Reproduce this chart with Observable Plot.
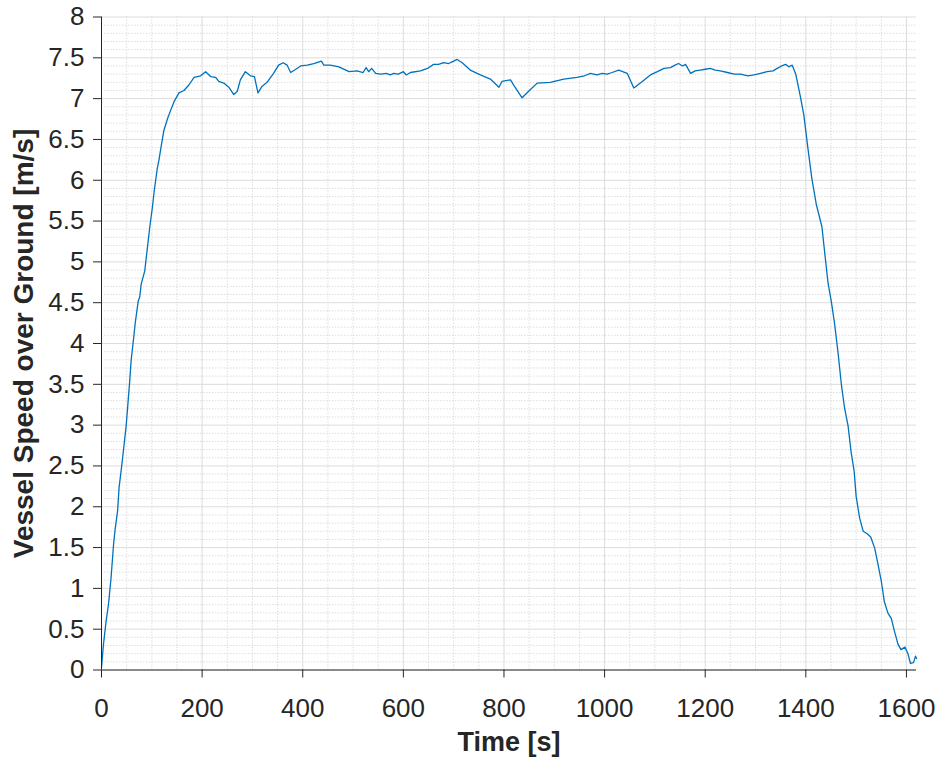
<!DOCTYPE html>
<html>
<head>
<meta charset="utf-8">
<script src="https://cdn.jsdelivr.net/npm/d3@7"></script>
<script src="https://cdn.jsdelivr.net/npm/@observablehq/plot@0.6"></script>
<style>
  html, body { margin: 0; padding: 0; background: #fff; }
  svg { display: block; overflow: visible; }
</style>
</head>
<body>
<div id="chart"></div>
<script>
const timeS = [0,4,9,14,19,24,27,32,35,39,44,49,53,56,59,64,67,73,76,79,86,91,96,101,105,111,114,119,124,131,137,144,154,164,174,184,197,207,217,227,233,243,253,263,270,276,286,296,304,311,319,329,342,352,361,369,376,384,396,409,422,437,442,455,472,492,508,520,526,531,537,545,555,566,574,581,590,600,606,614,634,648,660,670,680,690,697,707,717,733,753,773,790,796,813,820,836,849,866,892,919,945,960,972,985,995,1005,1015,1028,1045,1058,1075,1091,1105,1118,1131,1140,1147,1155,1161,1171,1180,1190,1200,1210,1220,1230,1244,1258,1270,1285,1297,1310,1323,1335,1343,1352,1360,1366,1373,1380,1389,1396,1404,1412,1421,1432,1436,1444,1451,1457,1464,1471,1477,1484,1490,1496,1500,1507,1514,1522,1529,1537,1543,1550,1556,1563,1570,1576,1583,1589,1597,1603,1608,1614,1618,1620];
const speed = [0.03,0.32,0.59,0.81,1.13,1.54,1.72,1.95,2.24,2.44,2.71,2.99,3.30,3.53,3.80,4.07,4.25,4.52,4.57,4.73,4.89,5.16,5.43,5.66,5.88,6.15,6.24,6.43,6.61,6.75,6.85,6.96,7.07,7.10,7.17,7.26,7.28,7.33,7.27,7.26,7.21,7.19,7.14,7.05,7.09,7.23,7.33,7.28,7.27,7.07,7.15,7.20,7.31,7.41,7.44,7.41,7.32,7.35,7.40,7.41,7.43,7.46,7.41,7.41,7.39,7.33,7.34,7.32,7.38,7.33,7.37,7.31,7.30,7.31,7.29,7.31,7.30,7.33,7.29,7.32,7.34,7.37,7.42,7.42,7.44,7.43,7.45,7.48,7.44,7.35,7.29,7.24,7.14,7.21,7.23,7.16,7.01,7.09,7.19,7.20,7.24,7.26,7.28,7.31,7.29,7.31,7.30,7.32,7.35,7.31,7.13,7.21,7.29,7.33,7.37,7.38,7.41,7.43,7.40,7.42,7.31,7.34,7.35,7.36,7.37,7.35,7.34,7.32,7.30,7.30,7.28,7.29,7.31,7.33,7.34,7.37,7.40,7.42,7.39,7.41,7.30,7.03,6.80,6.40,6.02,5.70,5.43,5.20,4.75,4.50,4.25,3.89,3.48,3.21,2.99,2.67,2.44,2.13,1.86,1.70,1.67,1.63,1.49,1.31,1.09,0.84,0.70,0.63,0.48,0.32,0.25,0.28,0.20,0.08,0.09,0.17,0.14];

const xTicks = [0,200,400,600,800,1000,1200,1400,1600];
const yTicks = [0,0.5,1,1.5,2,2.5,3,3.5,4,4.5,5,5.5,6,6.5,7,7.5,8];
const xMinor = d3.range(50, 1620, 50).filter(v => v % 200 !== 0);
const yMinor = d3.range(1, 80).map(i => i / 10).filter((v, i) => (i + 1) % 5 !== 0);

const data = timeS.map((t, i) => ({t, v: speed[i]}));
const ink = "#262626";

const chart = Plot.plot({
  width: 940,
  height: 758,
  marginLeft: 101,
  marginRight: 24,
  marginTop: 16.5,
  marginBottom: 88.5,
  style: {fontFamily: "'Liberation Sans', Arial, sans-serif", color: ink, background: "#fff", overflow: "visible"},
  x: {domain: [0, 1620]},
  y: {domain: [0, 8]},
  marks: [
    Plot.gridX(xMinor, {stroke: "#c8c8c8", strokeOpacity: 0.6, strokeDasharray: "1.5,1.5"}),
    Plot.gridY(yMinor, {stroke: "#c8c8c8", strokeOpacity: 0.6, strokeDasharray: "1.5,1.5"}),
    Plot.gridX(xTicks, {stroke: "#dcdcdc", strokeOpacity: 1}),
    Plot.gridY(yTicks, {stroke: "#dcdcdc", strokeOpacity: 1}),
    Plot.line(data, {x: "t", y: "v", stroke: "#0072BD", strokeWidth: 1.3}),
    Plot.ruleX([0], {stroke: ink, strokeWidth: 1}),
    Plot.ruleY([0], {stroke: ink, strokeWidth: 1}),
    Plot.axisX(xTicks, {tickSize: 8, tickPadding: 21, fontSize: 26, stroke: ink, fill: ink, label: null, tickFormat: d => String(d)}),
    Plot.axisY(yTicks, {tickSize: 8, tickPadding: 9, fontSize: 26, stroke: ink, fill: ink, label: null, tickFormat: d => String(d)}),
    Plot.text(["Time [s]"], {frameAnchor: "bottom", dy: 72, fontSize: 27, fontWeight: "bold", fill: ink, textAnchor: "middle", lineAnchor: "middle"}),
    Plot.text(["Vessel Speed over Ground [m/s]"], {frameAnchor: "left", dx: -77, rotate: -90, fontSize: 28, fontWeight: "bold", fill: ink, textAnchor: "middle", lineAnchor: "middle"})
  ]
});
document.getElementById("chart").appendChild(chart);
</script>
</body>
</html>
